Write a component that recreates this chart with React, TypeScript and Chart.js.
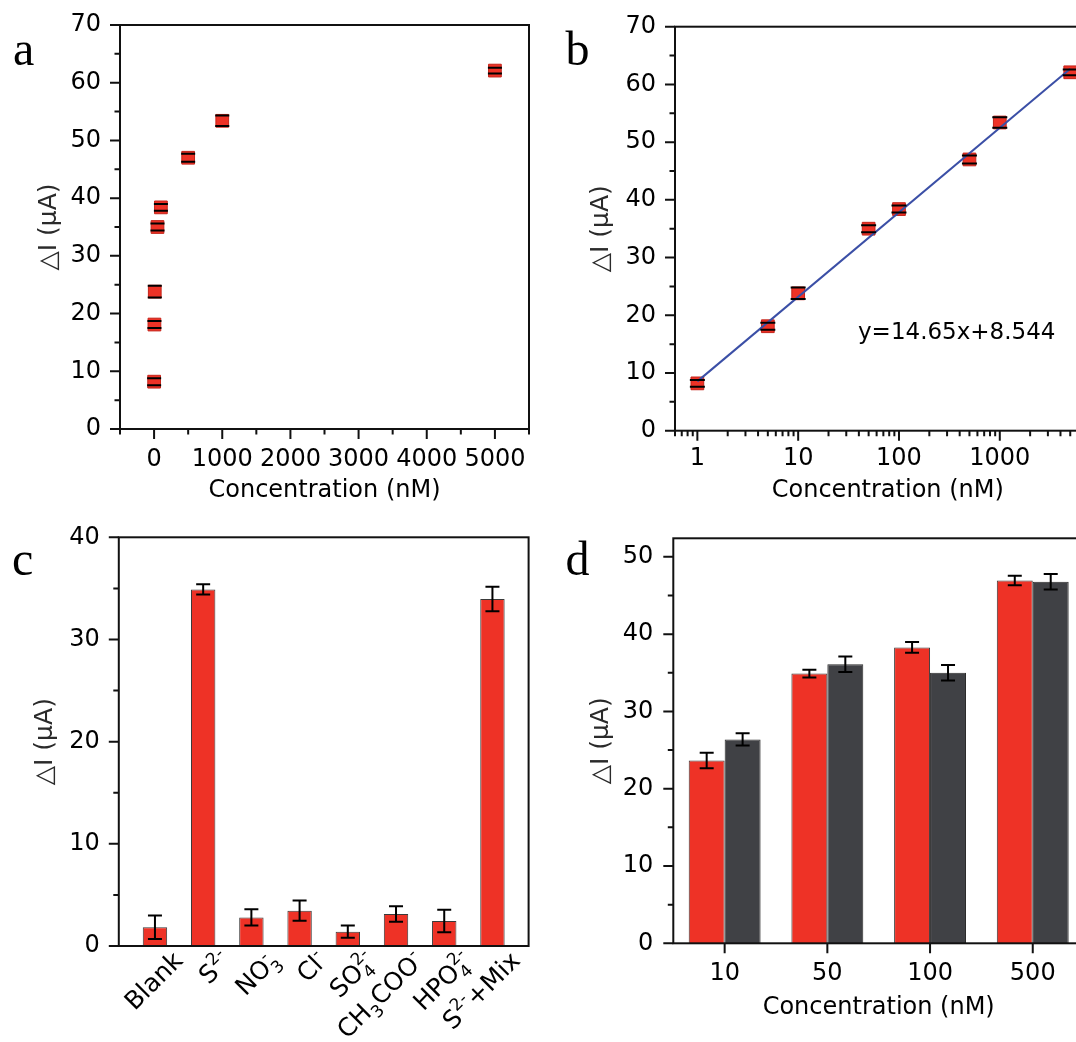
import React, { useEffect, useRef } from 'react';
import { Chart, registerables } from 'chart.js';

Chart.register(...registerables);
Chart.defaults.font.family = "'DejaVu Sans', sans-serif";
Chart.defaults.color = '#000';

// ---------- data ----------
const concentrationNM = [1, 5, 10, 50, 100, 500, 1000, 5000];
const responseUA = [8.2, 18.1, 23.8, 35.0, 38.4, 47.0, 53.4, 62.1];
const responseErr = [0.6, 0.6, 1.0, 0.6, 0.6, 0.7, 0.9, 0.5];
const fitLineX = [1, 5000];
const fitLineY = [8.544, 62.73];
const fitEquation = 'y=14.65x+8.544';
const linearXTicks = [0, 1000, 2000, 3000, 4000, 5000];
const logXTicks = [1, 10, 100, 1000];
const responseYTicks = [0, 10, 20, 30, 40, 50, 60, 70];

const ionLabels = ['Blank', 'S²⁻', 'NO₃⁻', 'Cl⁻', 'SO₄²⁻', 'CH₃COO⁻', 'HPO₄²⁻', 'S²⁻+Mix'];
const ionResponse = [1.83, 34.9, 2.8, 3.46, 1.4, 3.13, 2.45, 33.96];
const ionErr = [1.15, 0.5, 0.8, 1.0, 0.6, 0.75, 1.1, 1.2];
const ionYTicks = [0, 10, 20, 30, 40];

const sampleConc = ['10', '50', '100', '500'];
const standardResponse = [23.66, 34.9, 38.28, 46.94];
const standardErr = [1.0, 0.5, 0.7, 0.6];
const realResponse = [26.38, 36.1, 35.0, 46.77];
const realErr = [0.8, 1.0, 1.0, 1.0];
const sampleYTicks = [0, 10, 20, 30, 40, 50];

const yTitle = '△I (μA)';
const xTitle = 'Concentration (nM)';

// ---------- styles ----------
const RED = '#ee3226';
const DARK = '#404145';
const INK = '#000';
const FAMILY = "'DejaVu Sans', sans-serif";
const FONT = { size: 24, family: FAMILY };
const TITLE_FONT = { size: 25, family: FAMILY };

// ---------- plugins ----------
type FrameCfg = { yMinor?: number; xMode: 'linear' | 'log' | 'category' | 'none'; xMinor?: number };

function framePlugin(cfg: FrameCfg) {
  return {
    id: 'frameTicks',
    afterDraw(chart: any) {
      const { ctx } = chart;
      const { left, right, top, bottom } = chart.chartArea;
      const xs = chart.scales.x;
      const ys = chart.scales.y;
      const MAJ = 10;
      const MIN = 5.5;
      ctx.save();
      ctx.strokeStyle = '#111';
      ctx.lineWidth = 2;
      ctx.beginPath();
      const yMaj: number[] = ys.ticks.map((t: any) => t.value);
      yMaj.forEach((v) => {
        const p = ys.getPixelForValue(v);
        ctx.moveTo(left - MAJ, p);
        ctx.lineTo(left, p);
      });
      if (cfg.yMinor) {
        const st = cfg.yMinor;
        for (let i = Math.ceil(ys.min / st - 1e-9); i * st <= ys.max + 1e-9; i++) {
          const v = i * st;
          if (yMaj.some((m) => Math.abs(m - v) < 1e-9)) continue;
          const p = ys.getPixelForValue(v);
          ctx.moveTo(left - MIN, p);
          ctx.lineTo(left, p);
        }
      }
      if (cfg.xMode === 'linear') {
        const xMaj: number[] = xs.ticks.map((t: any) => t.value);
        xMaj.forEach((v) => {
          const p = xs.getPixelForValue(v);
          ctx.moveTo(p, bottom);
          ctx.lineTo(p, bottom + MAJ);
        });
        if (cfg.xMinor) {
          const st = cfg.xMinor;
          for (let i = Math.ceil(xs.min / st - 1e-9); i * st <= xs.max + 1e-9; i++) {
            const v = i * st;
            if (xMaj.some((m) => Math.abs(m - v) < 1e-9)) continue;
            const p = xs.getPixelForValue(v);
            ctx.moveTo(p, bottom);
            ctx.lineTo(p, bottom + MIN);
          }
        }
      } else if (cfg.xMode === 'log') {
        const e0 = Math.floor(Math.log10(xs.min));
        const e1 = Math.ceil(Math.log10(xs.max));
        for (let e = e0; e <= e1; e++) {
          for (let k = 1; k <= 9; k++) {
            const v = k * Math.pow(10, e);
            if (v < xs.min * 0.999 || v > xs.max * 1.001) continue;
            const p = xs.getPixelForValue(v);
            ctx.moveTo(p, bottom);
            ctx.lineTo(p, bottom + (k === 1 ? MAJ : MIN));
          }
        }
      } else if (cfg.xMode === 'category') {
        xs.ticks.forEach((_t: any, i: number) => {
          const p = xs.getPixelForTick(i);
          ctx.moveTo(p, bottom);
          ctx.lineTo(p, bottom + MAJ);
        });
      }
      ctx.stroke();
      ctx.strokeRect(left, top, right - left, bottom - top);
      ctx.restore();
    },
  };
}

// error bars; when stemsBehind is set, stems are drawn under the markers and caps over them
function errorBarPlugin(sets: { dataset: number; errors: number[] }[], cap: number, stemsBehind = false) {
  const draw = (chart: any, stems: boolean, caps: boolean) => {
    const { ctx } = chart;
    const ys = chart.scales.y;
    ctx.save();
    ctx.strokeStyle = '#000';
    ctx.lineWidth = 2;
    sets.forEach((s) => {
      const meta = chart.getDatasetMeta(s.dataset);
      const raw = chart.data.datasets[s.dataset].data;
      meta.data.forEach((el: any, i: number) => {
        const d = raw[i];
        const v = typeof d === 'number' ? d : d.y;
        const e = s.errors[i];
        const x = el.x;
        const yt = ys.getPixelForValue(v + e);
        const yb = ys.getPixelForValue(v - e);
        ctx.beginPath();
        if (stems) {
          ctx.moveTo(x, yt);
          ctx.lineTo(x, yb);
        }
        if (caps) {
          ctx.moveTo(x - cap, yt);
          ctx.lineTo(x + cap, yt);
          ctx.moveTo(x - cap, yb);
          ctx.lineTo(x + cap, yb);
        }
        ctx.stroke();
      });
    });
    ctx.restore();
  };
  return {
    id: 'errorBars',
    beforeDatasetsDraw(chart: any) {
      if (stemsBehind) draw(chart, true, false);
    },
    afterDatasetsDraw(chart: any) {
      if (stemsBehind) draw(chart, false, true);
      else draw(chart, true, true);
    },
  };
}

// rich (sub/superscript) rotated tick labels for the category axis of panel c
const SUB: Record<string, string> = { '₀': '0', '₁': '1', '₂': '2', '₃': '3', '₄': '4', '₅': '5', '₆': '6', '₇': '7', '₈': '8', '₉': '9' };
const SUP: Record<string, string> = { '⁰': '0', '¹': '1', '²': '2', '³': '3', '⁴': '4', '⁵': '5', '⁶': '6', '⁷': '7', '⁸': '8', '⁹': '9', '⁻': '-', '⁺': '+' };

function parseRich(s: string) {
  const segs: { text: string; kind: 'n' | 'sub' | 'sup' }[] = [];
  for (const ch of Array.from(s)) {
    const kind = SUB[ch] !== undefined ? 'sub' : SUP[ch] !== undefined ? 'sup' : 'n';
    const t = kind === 'sub' ? SUB[ch] : kind === 'sup' ? SUP[ch] : ch;
    const last = segs[segs.length - 1];
    if (last && last.kind === kind) last.text += t;
    else segs.push({ text: t, kind });
  }
  return segs;
}

function richLabelPlugin(labels: string[], dx: number, dy: number, mainPx: number, scriptPx: number) {
  return {
    id: 'richLabels',
    afterDraw(chart: any) {
      const { ctx } = chart;
      const xs = chart.scales.x;
      const bottom = chart.chartArea.bottom;
      const mainFont = `${mainPx}px ${FAMILY}`;
      const scriptFont = `${scriptPx}px ${FAMILY}`;
      labels.forEach((lab, i) => {
        const segs = parseRich(lab);
        const placed: { text: string; x: number; y: number; font: string }[] = [];
        let x = 0;
        let prevKind = 'n';
        let subStart = 0;
        segs.forEach((sg) => {
          const font = sg.kind === 'n' ? mainFont : scriptFont;
          ctx.font = font;
          const w = ctx.measureText(sg.text).width;
          if (sg.kind === 'n') {
            placed.push({ text: sg.text, x, y: 0, font });
            x += w;
          } else if (sg.kind === 'sub') {
            subStart = x;
            placed.push({ text: sg.text, x, y: mainPx * 0.28, font });
            x += w;
          } else {
            const sx = prevKind === 'sub' ? subStart : x;
            placed.push({ text: sg.text, x: sx, y: -mainPx * 0.42, font });
            x = Math.max(x, sx + w);
          }
          prevKind = sg.kind;
        });
        const total = x;
        ctx.save();
        ctx.translate(xs.getPixelForValue(i) + dx, bottom + dy);
        ctx.rotate(-Math.PI / 4);
        ctx.fillStyle = INK;
        ctx.textAlign = 'left';
        ctx.textBaseline = 'alphabetic';
        placed.forEach((p) => {
          ctx.font = p.font;
          ctx.fillText(p.text, p.x - total, p.y);
        });
        ctx.restore();
      });
    },
  };
}

type TextItem = { text: string; x: number; y: number; font: string; baseline: CanvasTextBaseline; color: string };
function textPlugin(items: TextItem[]) {
  return {
    id: 'texts',
    afterDraw(chart: any) {
      const { ctx } = chart;
      ctx.save();
      items.forEach((t) => {
        ctx.font = t.font;
        ctx.fillStyle = t.color;
        ctx.textBaseline = t.baseline;
        ctx.textAlign = 'left';
        ctx.fillText(t.text, t.x, t.y);
      });
      ctx.restore();
    },
  };
}

const letter = (text: string, x: number, y: number): TextItem => ({
  text, x, y, font: "48px 'Liberation Serif', serif", baseline: 'alphabetic', color: INK,
});

// ---------- scale builders ----------
const fixSize = (dim: 'width' | 'height', size: number) => (s: any) => {
  s[dim] = size;
  s.paddingTop = 0;
  s.paddingBottom = 0;
  s.paddingLeft = 0;
  s.paddingRight = 0;
};

function yAxis(min: number, max: number, ticks: number[], width: number, pad: number, titlePad: number) {
  return {
    type: 'linear',
    position: 'left',
    min,
    max,
    afterFit: fixSize('width', width),
    afterBuildTicks: (s: any) => { s.ticks = ticks.map((v) => ({ value: v })); },
    grid: { display: false, drawTicks: false },
    border: { display: false },
    ticks: { padding: pad, color: INK, font: FONT, autoSkip: false, callback: (v: any) => String(v) },
    title: { display: true, text: yTitle, color: '#2a2a2a', font: TITLE_FONT, padding: { top: titlePad, bottom: 0 } },
  };
}

function xTitleOpts(padBottom: number) {
  return { display: true, text: xTitle, color: INK, font: FONT, padding: { top: 0, bottom: padBottom } };
}

const baseOptions = (padding: any) => ({
  animation: false,
  responsive: false,
  events: [],
  layout: { padding },
  plugins: { legend: { display: false }, tooltip: { enabled: false } },
});

// ---------- chart configs ----------
function makeA(): any {
  return {
    type: 'scatter',
    data: {
      datasets: [{
        data: concentrationNM.map((c, i) => ({ x: c, y: responseUA[i] })),
        pointStyle: 'rect', pointRadius: 9, backgroundColor: RED, borderColor: '#c4241a', borderWidth: 1,
      }],
    },
    options: {
      ...baseOptions({ left: 0, top: 25, right: 11, bottom: 0 }),
      scales: {
        x: {
          type: 'linear', position: 'bottom', min: -500, max: 5500,
          afterFit: fixSize('height', 91),
          afterBuildTicks: (s: any) => { s.ticks = linearXTicks.map((v) => ({ value: v })); },
          grid: { display: false, drawTicks: false }, border: { display: false },
          ticks: { padding: 16, color: INK, font: FONT, maxRotation: 0, minRotation: 0, autoSkip: false, callback: (v: any) => String(v) },
          title: xTitleOpts(15),
        },
        y: yAxis(0, 70, responseYTicks, 120, 19, 34),
      },
    },
    plugins: [
      errorBarPlugin([{ dataset: 0, errors: responseErr }], 7, true),
      framePlugin({ xMode: 'linear', xMinor: 500, yMinor: 5 }),
      textPlugin([letter('a', 13, 65)]),
    ],
  };
}

function makeB(): any {
  return {
    type: 'scatter',
    data: {
      datasets: [
        {
          data: fitLineX.map((x, i) => ({ x, y: fitLineY[i] })),
          showLine: true, pointRadius: 0, borderColor: '#3b4fa6', borderWidth: 2, fill: false,
        },
        {
          data: concentrationNM.map((c, i) => ({ x: c, y: responseUA[i] })),
          pointStyle: 'rect', pointRadius: 9, backgroundColor: RED, borderColor: '#c4241a', borderWidth: 1,
        },
      ],
    },
    options: {
      ...baseOptions({ left: 0, top: 26.7, right: 19.4, bottom: 0 }),
      scales: {
        x: {
          type: 'logarithmic', position: 'bottom', min: 0.6, max: 10000,
          afterFit: fixSize('height', 89.3),
          afterBuildTicks: (s: any) => { s.ticks = logXTicks.map((v) => ({ value: v })); },
          grid: { display: false, drawTicks: false }, border: { display: false },
          ticks: { padding: 14, color: INK, font: FONT, maxRotation: 0, minRotation: 0, autoSkip: false, callback: (v: any) => String(v) },
          title: xTitleOpts(14.5),
        },
        y: yAxis(0, 70, responseYTicks, 135, 19, 46.5),
      },
    },
    plugins: [
      errorBarPlugin([{ dataset: 1, errors: responseErr }], 7.5, true),
      framePlugin({ xMode: 'log', yMinor: 5 }),
      textPlugin([
        letter('b', 25.6, 65),
        { text: fitEquation, x: 318, y: 333, font: `23px ${FAMILY}`, baseline: 'middle', color: INK },
      ]),
    ],
  };
}

function makeC(): any {
  return {
    type: 'bar',
    data: {
      datasets: [{
        data: ionResponse.map((v, i) => ({ x: i, y: v })),
        backgroundColor: RED, borderColor: '#3a3a3a', borderWidth: 1,
        categoryPercentage: 1, barPercentage: 0.506,
      }],
    },
    options: {
      ...baseOptions({ left: 0, top: 17.3, right: 11.4, bottom: 0 }),
      scales: {
        x: {
          type: 'linear', position: 'bottom', min: -0.75, max: 7.75, offset: false,
          afterFit: fixSize('height', 96),
          afterBuildTicks: (s: any) => { s.ticks = ionLabels.map((_l, i) => ({ value: i })); },
          grid: { display: false, drawTicks: false }, border: { display: false },
          ticks: { display: false, autoSkip: false, maxRotation: 0, minRotation: 0 },
        },
        y: yAxis(0, 40, ionYTicks, 118.8, 19, 30.5),
      },
    },
    plugins: [
      errorBarPlugin([{ dataset: 0, errors: ionErr }], 7),
      framePlugin({ xMode: 'none', yMinor: 5 }),
      richLabelPlugin(ionLabels, 29, 16, 25, 17),
      textPlugin([letter('c', 12, 55)]),
    ],
  };
}

function makeD(): any {
  return {
    type: 'bar',
    data: {
      labels: sampleConc,
      datasets: [
        { data: standardResponse, backgroundColor: RED, borderColor: '#3a3a3a', borderWidth: 1, categoryPercentage: 0.7, barPercentage: 1 },
        { data: realResponse, backgroundColor: DARK, borderColor: '#2a2a2a', borderWidth: 1, categoryPercentage: 0.7, barPercentage: 1 },
      ],
    },
    options: {
      ...baseOptions({ left: 0, top: 18.3, right: 35.9, bottom: 0 }),
      scales: {
        x: {
          type: 'category', position: 'bottom', offset: true,
          afterFit: fixSize('height', 98.7),
          grid: { display: false, drawTicks: false, offset: true }, border: { display: false },
          ticks: { padding: 16.5, color: INK, font: FONT, maxRotation: 0, minRotation: 0, autoSkip: false },
          title: xTitleOpts(20),
        },
        y: yAxis(0, 52.4, sampleYTicks, 133.3, 20, 46.5),
      },
    },
    plugins: [
      errorBarPlugin([{ dataset: 0, errors: standardErr }, { dataset: 1, errors: realErr }], 7),
      framePlugin({ xMode: 'category', yMinor: 5 }),
      textPlugin([letter('d', 25.6, 55)]),
    ],
  };
}

// ---------- components ----------
function ChartPanel({ make, left, top, width, height }: { make: () => any; left: number; top: number; width: number; height: number }) {
  const ref = useRef<HTMLCanvasElement | null>(null);
  useEffect(() => {
    if (!ref.current) return;
    const chart = new Chart(ref.current, make());
    return () => chart.destroy();
  }, [make]);
  return (
    <canvas
      ref={ref}
      width={width}
      height={height}
      style={{ position: 'absolute', left, top, width, height, display: 'block' }}
    />
  );
}

export default function App() {
  return (
    <div
      style={{
        position: 'fixed', left: 0, top: 0, width: 1076, height: 1042,
        overflow: 'hidden', background: '#ffffff',
      }}
    >
      <ChartPanel make={makeA} left={0} top={0} width={540} height={520} />
      <ChartPanel make={makeB} left={540} top={0} width={580} height={520} />
      <ChartPanel make={makeC} left={0} top={520} width={540} height={522} />
      <ChartPanel make={makeD} left={540} top={520} width={580} height={522} />
    </div>
  );
}
